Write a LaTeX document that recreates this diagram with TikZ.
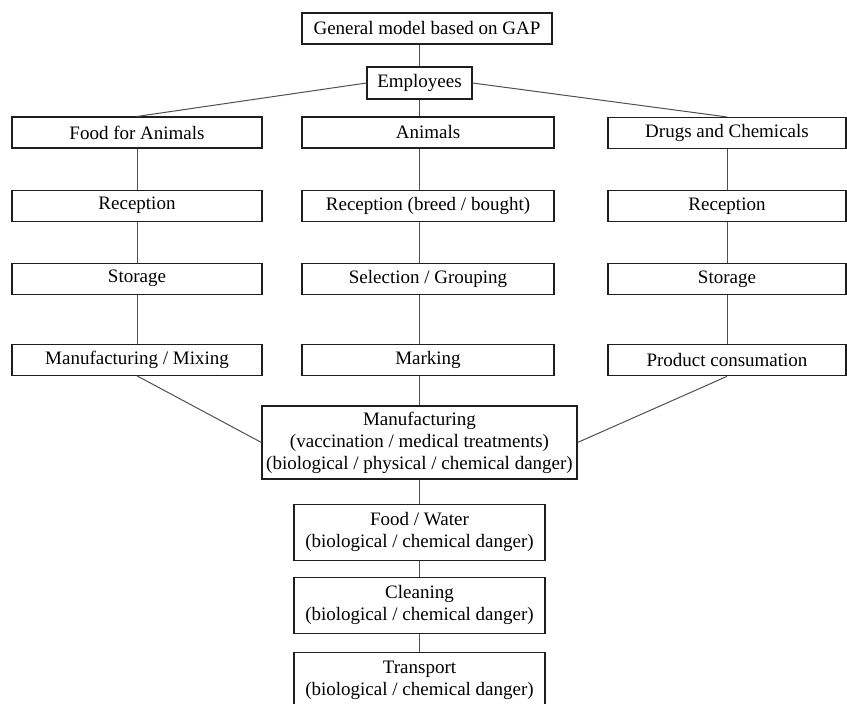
\documentclass[tikz,border=0pt]{standalone}
\usepackage{fontspec}
\setmainfont{Liberation Serif}
\usepackage{xcolor}
\usetikzlibrary{positioning}
\definecolor{inkBox} {HTML}{1E1E1E}
\definecolor{inkLine}{HTML}{505050}

\begin{document}
\begin{tikzpicture}[
    x=1pt, y=-1pt,
    node distance=41pt,
    box/.style={draw=inkBox, line width=1.1pt, fill=white, inner sep=3pt,
                font=\fontsize{19}{22}\selectfont, align=center,
                minimum height=31pt},
    colbox/.style={box, minimum width=250pt},
    stage/.style={box, minimum width=251pt, minimum height=56pt},
    link/.style={draw=inkLine, line width=1pt},
  ]
    \useasboundingbox (0,0) rectangle (847,704);

    \node[box, minimum width=250pt] (gap) at (427,28.5) {General model based on GAP};
    \node[box, minimum width=105pt, minimum height=32pt] (emp) at (419.5,83) {Employees};

    % left branch
    \node[colbox] (food) at (137,132.5) {Food for Animals};
    \node[colbox, below=of food] (frec) {Reception};
    \node[colbox, below=of frec] (fsto) {Storage};
    \node[colbox, below=49pt of fsto] (fmix) {Manufacturing / Mixing};

    % middle branch
    \node[colbox, minimum width=252pt] (anim) at (428,132.5) {Animals};
    \node[colbox, minimum width=252pt, below=of anim] (arec) {Reception (breed / bought)};
    \node[colbox, minimum width=252pt, below=of arec] (asel) {Selection / Grouping};
    \node[colbox, minimum width=252pt, below=49pt of asel] (amark) {Marking};

    % right branch
    \node[colbox, minimum width=238pt] (drug) at (727,133) {Drugs and Chemicals};
    \node[colbox, minimum width=238pt, below=of drug] (drec) {Reception};
    \node[colbox, minimum width=238pt, below=of drec] (dsto) {Storage};
    \node[colbox, minimum width=238pt, below=49pt of dsto] (dcon) {Product consumation};

    % joined chain
    \node[box, minimum width=315pt, minimum height=73pt] (mfg) at (419.5,442.5)
        {Manufacturing\\(vaccination / medical treatments)\\(biological / physical / chemical danger)};
    \node[stage, below=24pt of mfg] (water) {Food / Water\\(biological / chemical danger)};
    \node[stage, below=16pt of water] (clean) {Cleaning\\(biological / chemical danger)};
    \node[stage, below=18pt of clean] (trans) {Transport\\(biological / chemical danger)};

    \draw[link] (gap.south -| emp) -- (emp.north);
    \draw[link] (emp.west) -- (food.north);
    \draw[link] (emp.east) -- (drug.north);
    \draw[link] (emp.south) -- (emp.south |- anim.north);

    \draw[link] (food) -- (frec);
    \draw[link] (frec) -- (fsto);
    \draw[link] (fsto) -- (fmix);

    \draw[link] (anim.south -| emp) -- (arec.north -| emp);
    \draw[link] (arec.south -| emp) -- (asel.north -| emp);
    \draw[link] (asel.south -| emp) -- (amark.north -| emp);

    \draw[link] (drug) -- (drec);
    \draw[link] (drec) -- (dsto);
    \draw[link] (dsto) -- (dcon);

    \draw[link] (fmix.south) -- (mfg.west);
    \draw[link] (amark.south -| emp) -- (mfg.north -| emp);
    \draw[link] (dcon.south) -- (mfg.east);

    \draw[link] (mfg.south -| emp) -- (water.north -| emp);
    \draw[link] (water.south -| emp) -- (clean.north -| emp);
    \draw[link] (clean.south -| emp) -- (trans.north -| emp);
\end{tikzpicture}
\end{document}
